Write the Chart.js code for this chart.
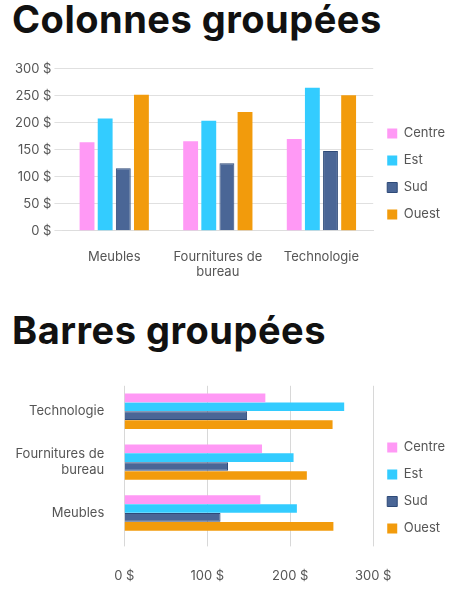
<!DOCTYPE html>
<html><head><meta charset="utf-8">
<script src="https://cdn.jsdelivr.net/npm/chart.js@4"></script>
<style>
body{margin:0;width:463px;height:610px;background:#fff;font-family:Inter,sans-serif;position:relative;overflow:hidden}
h1{position:absolute;left:12px;margin:0;font-size:38px;font-weight:700;color:#111;letter-spacing:0.5px}
.c{position:absolute;left:0;width:463px}
</style></head><body>
<h1 style="top:-4px">Colonnes groupées</h1>
<div class="c" style="top:58px;height:232px"><canvas id="c1"></canvas></div>
<h1 style="top:307px">Barres groupées</h1>
<div class="c" style="top:366px;height:244px"><canvas id="c2"></canvas></div>
<script>
const categories=[["Meubles"],["Fournitures de","bureau"],["Technologie"]];
const seriesNames=["Centre","Est","Sud","Ouest"];
const centre=[164,166,170];
const est=[208,204,265];
const sud=[116,125,148];
const ouest=[252,220,251];
const colors=["#FF99F5","#33CCFF","#4A6696","#F29B0C"];
const borders=["#FF99F5","#33CCFF","#2E4A78","#F29B0C"];
const values=[centre,est,sud,ouest];
const ticksV=[0,50,100,150,200,250,300];
const ticksH=[0,100,200,300];
Chart.defaults.font.family="Inter, sans-serif";
Chart.defaults.color="#555";
Chart.defaults.animation=false;
function ds(bp){return seriesNames.map((n,i)=>({label:n,data:values[i],backgroundColor:colors[i],borderColor:borders[i],borderWidth:i==2?1:0,barPercentage:bp,categoryPercentage:0.7}));}
function legend(){return {position:'right',labels:{boxWidth:10,boxHeight:10,padding:14,font:{size:13},color:'#555'}};}
new Chart(document.getElementById('c1'),{type:'bar',data:{labels:categories,datasets:ds(0.82)},
options:{responsive:true,maintainAspectRatio:false,layout:{padding:{left:12,right:8,top:0,bottom:0}},
plugins:{legend:legend(),tooltip:{enabled:false}},
scales:{x:{grid:{display:false},border:{color:'#ddd'},ticks:{padding:10,font:{size:13},color:'#555'}},
y:{min:0,max:300,afterBuildTicks:s=>{s.ticks=ticksV.map(v=>({value:v}))},grid:{color:'#e0e0e0'},border:{display:false},ticks:{font:{size:13},color:'#555',callback:v=>v+' $'}}}}});
new Chart(document.getElementById('c2'),{type:'bar',data:{labels:categories,datasets:ds(0.97)},
options:{indexAxis:'y',responsive:true,maintainAspectRatio:false,layout:{padding:{left:14,right:8,top:4,bottom:4}},
plugins:{legend:{...legend(),labels:{...legend().labels,padding:14},maxWidth:110},tooltip:{enabled:false}},
scales:{y:{reverse:true,grid:{display:false},border:{display:false},ticks:{padding:12,font:{size:13},color:'#555'}},
x:{min:0,max:300,afterBuildTicks:s=>{s.ticks=ticksH.map(v=>({value:v}))},grid:{color:'#d8d8d8'},border:{display:false},ticks:{padding:22,font:{size:13},color:'#555',callback:v=>v+' $'}}}}});
</script></body></html>
